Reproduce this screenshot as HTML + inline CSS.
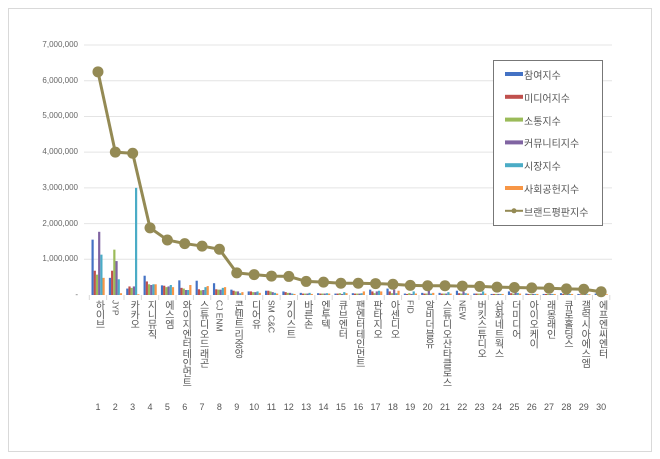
<!DOCTYPE html>
<html><head><meta charset="utf-8"><style>
body{margin:0;background:#fff;}
#w{position:relative;width:660px;height:459px;overflow:hidden;font-family:"Liberation Sans","Noto Sans CJK KR",sans-serif;}
.lb{position:absolute;top:300px;writing-mode:vertical-rl;font-size:10px;line-height:12px;color:#555;white-space:nowrap}
.ko{text-orientation:upright;letter-spacing:-0.3px}
.en{text-orientation:sideways;font-size:8.5px}
.n{position:absolute;top:402px;font-size:9px;color:#555;width:20px;text-align:center}
.y{position:absolute;right:582px;font-size:8px;color:#666;}
</style></head><body><div id="w">
<svg width="660" height="459" style="position:absolute;left:0;top:0">
<rect x="8.5" y="8.5" width="643" height="443" fill="none" stroke="#d9d9d9"/>
<g stroke="#e4e4e4" stroke-width="1" id="grid"></g>
<g id="bars"></g>
<g id="ticks" stroke="#d9d9d9"></g>
<polyline id="line" fill="none" stroke="#948a54" stroke-width="3"/>
<g id="dots" fill="#948a54"></g>
<rect x="493.5" y="60.5" width="109" height="165" fill="#fff" stroke="#777"/>
<g id="leg" fill="#948a54"></g>
</svg>
</div>
<script>
const ns="http://www.w3.org/2000/svg";
function el(p,t,a){const e=document.createElementNS(ns,t);for(const k in a)e.setAttribute(k,a[k]);document.getElementById(p).appendChild(e);return e;}
const y0=295,k=35.71,x0=89.3,cw=17.35;
const W=document.getElementById('w');
for(let i=0;i<=7;i++){const y=y0-i*k;if(i>0)el('grid','line',{x1:84,x2:612,y1:y,y2:y});
const d=document.createElement('div');d.className='y';d.style.top=(y-5)+'px';d.textContent=i==0?'-':(i+',000,000');W.appendChild(d);}
const cols=['#4472c4','#c0504d','#9bbb59','#8064a2','#4bacc6','#f79646'];
const B=[[1.55,.68,.57,1.77,1.13,.48],[.48,.68,1.27,.95,.44,.05],[.18,.24,.2,.24,3.0,.02],[.54,.38,.3,.28,.3,.3],[.27,.26,.22,.24,.28,.22],[.41,.2,.18,.14,.14,.28],[.4,.16,.13,.14,.22,.25],[.33,.16,.15,.15,.2,.22],[.15,.12,.1,.1,.05,.08],[.1,.1,.08,.08,.1,.06],[.12,.12,.1,.08,.06,.04],[.1,.08,.06,.06,.04,.03],[.06,.04,.04,.04,.06,.03],[.05,.04,.04,.04,.05,.04],[.04,.04,.05,.03,.08,.05],[.05,.04,.04,.04,.05,.1],[.15,.1,.05,.1,.12,.1],[.18,.1,.05,.15,.05,.12],[.04,.03,.05,.03,.1,.04],[.06,.04,.04,.12,.04,.06],[.06,.04,.04,.04,.08,.04],[.12,.05,.04,.1,.05,.04],[.04,.04,.04,.04,.1,.04],[.03,.03,.03,.03,.03,.03],[.1,.05,.04,.1,.06,.04],[.04,.03,.03,.03,.03,.03],[.03,.03,.03,.03,.03,.03],[.05,.03,.03,.05,.03,.03],[.03,.02,.02,.02,.02,.02],[.04,.02,.02,.02,.02,.02]];
const L=[6.25,4.0,3.97,1.88,1.54,1.44,1.37,1.28,.62,.57,.53,.52,.38,.36,.33,.33,.32,.3,.27,.26,.26,.25,.24,.22,.21,.2,.19,.17,.16,.09];
const names=['하이브','JYP','카카오','지니뮤직','에스엠','와이지엔터테인먼트','스튜디오드래곤','CJ ENM','콘텐트리중앙','디어유','SM C&C','키이스트','바른손','엔투텍','큐브엔터','팬엔터테인먼트','판타지오','아센디오','FID','알비더블유','스튜디오산타클로스','NEW','버킷스튜디오','삼화네트웍스','더미디어','아이오케이','래몽래인','큐로홀딩스','갤럭시아에스엠','에프엔씨엔터'];
let pts=[];
for(let i=0;i<30;i++){const bx=x0+i*cw+2.2;
B[i].forEach((v,j)=>{const h=v*k;el('bars','rect',{x:bx+j*2.2,y:y0-h,width:2.2,height:h,fill:cols[j]});});
el('ticks','line',{x1:x0+i*cw,x2:x0+i*cw,y1:295,y2:300});
const cx=x0+(i+.5)*cw,cy=y0-L[i]*k;pts.push(cx+','+cy);el('dots','circle',{cx:cx,cy:cy,r:5.5});
const d=document.createElement('div');const en=/^[A-Z]/.test(names[i]);d.className='lb '+(en?'en':'ko');d.style.left=(cx-6)+'px';d.textContent=names[i];W.appendChild(d);
const n=document.createElement('div');n.className='n';n.style.left=(cx-10)+'px';n.textContent=i+1;W.appendChild(n);}
el('ticks','line',{x1:x0+30*cw,x2:x0+30*cw,y1:295,y2:300});
document.getElementById('line').setAttribute('points',pts.join(' '));
const ln=['참여지수','미디어지수','소통지수','커뮤니티지수','시장지수','사회공헌지수','브랜드평판지수'];
ln.forEach((t,j)=>{const y=74+j*22.8;
if(j<6)el('leg','rect',{x:505,y:y-2,width:18,height:4,fill:cols[j]});
else{el('leg','rect',{x:505,y:y-1,width:18,height:2,fill:'#948a54'});el('leg','circle',{cx:514,cy:y,r:2.5});}
const d=document.createElement('div');d.style.cssText='position:absolute;left:524px;top:'+(y-7)+'px;font-size:10px;color:#555';d.textContent=t;W.appendChild(d);});
</script></body></html>
